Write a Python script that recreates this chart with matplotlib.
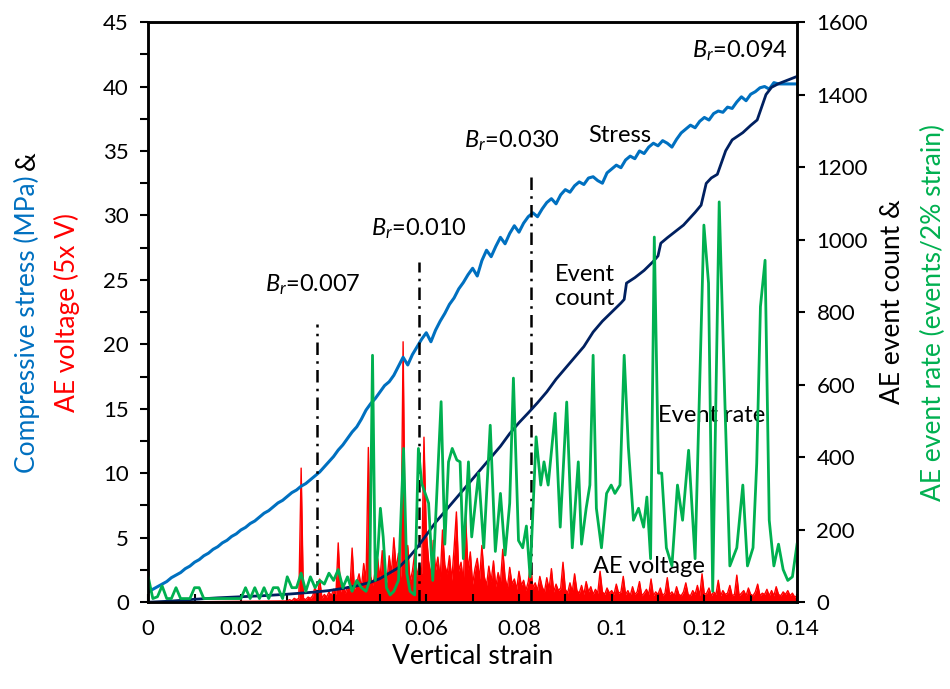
import matplotlib
matplotlib.use("Agg")
import matplotlib.pyplot as plt
from matplotlib.ticker import MultipleLocator

plt.rcParams["font.family"] = ["Lato", "DejaVu Sans"]
plt.rcParams["mathtext.fontset"] = "custom"
plt.rcParams["mathtext.rm"] = "Lato"
plt.rcParams["mathtext.it"] = "Lato:italic"

# ---- data ----
stress_strain = [i / 1000 for i in range(141)]
stress_mpa = [
    0.8, 1.0, 1.2, 1.4, 1.6, 1.9, 2.1, 2.3, 2.6, 2.8,
    3.1, 3.3, 3.6, 3.8, 4.1, 4.3, 4.6, 4.8, 5.1, 5.3,
    5.6, 5.8, 6.1, 6.3, 6.6, 6.9, 7.1, 7.4, 7.7, 7.9,
    8.2, 8.5, 8.7, 9.0, 9.2, 9.5, 9.8, 10.1, 10.5, 10.9,
    11.3, 11.8, 12.2, 12.7, 13.2, 13.6, 14.2, 14.9, 15.4, 15.8,
    16.3, 16.8, 17.1, 17.6, 18.3, 19.0, 18.4, 19.2, 19.8, 20.4,
    20.9, 20.2, 21.1, 21.8, 22.4, 23.1, 23.6, 24.3, 24.8, 25.4,
    25.9, 25.3, 26.5, 27.3, 26.8, 27.6, 28.3, 27.8, 28.6, 29.2,
    28.7, 29.4, 29.9, 30.2, 29.9, 30.5, 31.0, 31.3, 30.9, 31.6,
    32.0, 31.8, 32.3, 32.6, 32.4, 32.9, 33.0, 32.7, 32.5, 33.3,
    33.6, 33.9, 33.7, 34.3, 34.6, 34.4, 35.0, 34.8, 35.3, 35.6,
    35.4, 35.8, 35.6, 35.3, 35.9, 36.4, 36.7, 37.0, 36.8, 37.3,
    37.6, 37.4, 37.9, 38.1, 38.0, 38.4, 38.3, 38.8, 39.2, 38.9,
    39.4, 39.6, 39.9, 40.0, 39.8, 40.3, 40.2, 40.2, 40.2, 40.2,
    40.2,
]

count_strain = [
    0.000, 0.005, 0.010, 0.015, 0.020, 0.025, 0.030, 0.033, 0.036, 0.039,
    0.042, 0.045, 0.048, 0.050, 0.052, 0.054, 0.056, 0.058, 0.060, 0.062,
    0.064, 0.066, 0.068, 0.070, 0.072, 0.074, 0.076, 0.078, 0.080, 0.082,
    0.084, 0.086, 0.088, 0.090, 0.092, 0.094, 0.096, 0.098, 0.100, 0.102,
    0.1027, 0.1032, 0.105, 0.107, 0.109, 0.110, 0.1106, 0.112, 0.114, 0.1155,
    0.118, 0.1193, 0.1204, 0.1215, 0.1228, 0.1246, 0.126, 0.1283, 0.130, 0.1314,
    0.1333, 0.1345, 0.136, 0.138, 0.140,
]
event_count = [
    0, 3, 8, 12, 15, 18, 22, 25, 28, 32,
    38, 45, 55, 65, 80, 95, 120, 150, 185, 220,
    250, 280, 310, 340, 370, 400, 430, 465, 495, 522,
    550, 580, 615, 645, 675, 705, 745, 775, 800, 825,
    835, 880, 895, 915, 940, 955, 990, 1005, 1025, 1040,
    1075, 1095, 1155, 1170, 1180, 1245, 1275, 1295, 1315, 1330,
    1400, 1420, 1430, 1440, 1450,
]

rate_strain = [
    0.0000, 0.0010, 0.0020, 0.0030, 0.0040, 0.0050, 0.0060, 0.0070, 0.0090, 0.0100,
    0.0110, 0.0120, 0.0200, 0.0210, 0.0220, 0.0230, 0.0240, 0.0250, 0.0260, 0.0270,
    0.0280, 0.0290, 0.0300, 0.0310, 0.0320, 0.0330, 0.0340, 0.0350, 0.0360, 0.0370,
    0.0380, 0.0390, 0.0400, 0.0410, 0.0420, 0.0430, 0.0440, 0.0450, 0.0460, 0.0470,
    0.0478, 0.0484, 0.0490, 0.0496, 0.0501, 0.0507, 0.0514, 0.0522, 0.0530, 0.0540,
    0.0551, 0.0558, 0.0565, 0.0575, 0.0583, 0.0590, 0.0605, 0.0614, 0.0632, 0.0640,
    0.0648, 0.0656, 0.0666, 0.0673, 0.0680, 0.0691, 0.0698, 0.0713, 0.0724, 0.0738,
    0.0749, 0.0760, 0.0770, 0.0780, 0.0788, 0.0799, 0.0808, 0.0816, 0.0824, 0.0837,
    0.0847, 0.0854, 0.0863, 0.0878, 0.0889, 0.0903, 0.0915, 0.0928, 0.0935, 0.0945,
    0.0953, 0.0960, 0.0967, 0.0978, 0.0989, 0.0999, 0.1007, 0.1018, 0.1027, 0.1036,
    0.1047, 0.1058, 0.1069, 0.1076, 0.1084, 0.1092, 0.1101, 0.1108, 0.1118, 0.1130,
    0.1142, 0.1153, 0.1166, 0.1180, 0.1199, 0.1209, 0.1218, 0.1232, 0.1245, 0.1255,
    0.1270, 0.1283, 0.1293, 0.1305, 0.1313, 0.1321, 0.1331, 0.1340, 0.1350, 0.1360,
    0.1370, 0.1380, 0.1390, 0.1400,
]
event_rate = [
    70, 10, 15, 45, 10, 10, 40, 10, 10, 40,
    40, 10, 10, 40, 10, 40, 10, 40, 10, 40,
    40, 10, 70, 40, 40, 80, 30, 70, 40, 60,
    50, 80, 60, 90, 40, 70, 30, 60, 40, 30,
    60, 681, 60, 150, 259, 180, 40, 20, 30, 60,
    424, 80, 30, 20, 424, 328, 273, 60, 553, 160,
    387, 424, 392, 387, 120, 387, 180, 356, 150, 488,
    140, 300, 130, 273, 618, 170, 150, 210, 70, 456,
    323, 387, 323, 521, 207, 552, 150, 387, 160, 259,
    323, 681, 259, 150, 300, 323, 300, 323, 681, 428,
    226, 259, 207, 290, 120, 1007, 356, 356, 150, 100,
    323, 226, 419, 120, 1040, 880, 30, 1104, 521, 100,
    150, 323, 100, 150, 383, 815, 943, 226, 100, 160,
    90, 60, 70, 160,
]

# AE voltage (x5 V), sampled every 0.0005 strain from 0.030
volt_start = 0.030
ae_voltage = [
    0.1, 0.2, 0.1, 0.3, 0.2, 0.3, 10.4, 0.3, 0.2, 0.4,
    0.3, 0.5, 1.2, 0.4, 1.8, 0.3, 0.6, 0.4, 0.8, 0.5,
    1.0, 0.6, 4.6, 0.8, 1.4, 0.7, 1.2, 0.9, 4.2, 1.0,
    1.5, 2.2, 1.1, 3.0, 1.6, 12.0, 2.0, 1.3, 2.5, 3.4,
    1.8, 4.0, 2.4, 1.5, 3.6, 2.2, 5.0, 2.6, 3.8, 1.9,
    20.2, 2.8, 4.4, 1.6, 2.4, 3.8, 2.0, 3.0, 2.2, 12.8,
    5.5, 3.2, 2.0, 4.8, 2.5, 3.5, 1.8, 5.6, 2.9, 2.2,
    3.6, 1.7, 4.2, 7.0, 2.4, 3.1, 1.6, 6.6, 2.5, 3.9,
    1.4, 2.6, 3.4, 1.8, 4.4, 2.0, 1.3, 2.8, 1.6, 3.2,
    1.2, 2.3, 1.5, 4.1, 1.9, 1.1, 2.7, 1.4, 1.8, 1.0,
    2.4, 1.3, 1.7, 0.9, 1.6, 3.0, 1.1, 1.5, 0.9, 2.0,
    1.2, 0.8, 1.9, 1.0, 2.6, 0.8, 1.4, 0.9, 1.1, 3.1,
    1.0, 0.7, 1.5, 0.8, 2.2, 0.9, 0.7, 1.3, 0.6, 1.6,
    0.8, 1.2, 0.6, 1.0, 0.7, 2.4, 0.8, 0.6, 1.1, 0.7,
    0.9, 0.6, 1.4, 0.7, 0.8, 2.0, 0.6, 0.9, 0.5, 1.2,
    0.6, 0.8, 1.6, 0.5, 0.7, 1.0, 0.6, 1.8, 0.5, 0.8,
    0.6, 1.1, 0.5, 0.7, 1.9, 0.6, 0.8, 0.5, 1.2, 0.6,
    0.5, 0.8, 1.5, 0.6, 0.5, 0.9, 0.6, 1.3, 0.5, 2.2,
    0.6, 0.7, 1.1, 0.5, 0.8, 0.6, 1.7, 0.5, 0.9, 0.6,
    0.7, 1.3, 0.5, 0.6, 2.1, 0.5, 0.7, 0.9, 0.5, 1.1,
    0.6, 0.5, 0.8, 1.4, 0.5, 0.7, 0.6, 1.0, 0.5, 0.9,
    0.5, 1.2, 0.6, 0.5, 0.8, 0.6, 0.9, 0.5, 0.7, 0.4,
    0.5,
]
volt_strain = [0.0] + [volt_start + 0.0005 * i for i in range(len(ae_voltage))]
ae_voltage = [0.0] + ae_voltage

# B_r markers: strain, top of dash-dot line (MPa), label
br_strain = [0.0365, 0.0585, 0.0826]
br_top = [21.6, 26.4, 33.4]

BLUE = "#0070C0"
NAVY = "#002060"
GREEN = "#00B050"
RED = "#FF0000"

fig = plt.figure(figsize=(9.5, 6.89), dpi=100)
ax = fig.add_axes([0.156, 0.126, 0.683, 0.842])
ax2 = ax.twinx()

ax.fill_between(volt_strain, 0, ae_voltage, color=RED, lw=0)
ax.plot(volt_strain, ae_voltage, color=RED, lw=1.0)
ax.plot(stress_strain, stress_mpa, color=BLUE, lw=2.2)
for s, top in zip(br_strain, br_top):
    ax.plot([s, s], [0, top], color="black", lw=1.8,
            linestyle=(0, (5, 2.5, 1, 2.5)))

ax2.plot(count_strain, event_count, color=NAVY, lw=2.0)
ax2.plot(rate_strain, event_rate, color=GREEN, lw=2.0)

ax.set_xlim(0, 0.14)
ax.set_ylim(0, 45)
ax2.set_ylim(0, 1600)
ax.xaxis.set_major_locator(MultipleLocator(0.02))
ax.xaxis.set_minor_locator(MultipleLocator(0.01))
ax.yaxis.set_major_locator(MultipleLocator(5))
ax.yaxis.set_minor_locator(MultipleLocator(2.5))
ax2.yaxis.set_major_locator(MultipleLocator(200))
ax.set_xticklabels([])
xt = [0, 0.02, 0.04, 0.06, 0.08, 0.1, 0.12, 0.14]
ax.set_xticks(xt)
ax.set_xticklabels(["0", "0.02", "0.04", "0.06", "0.08", "0.1", "0.12", "0.14"])

for a in (ax, ax2):
    for sp in a.spines.values():
        sp.set_linewidth(1.8)
ax.tick_params(axis="x", which="both", direction="in", length=6, width=1.5,
               labelsize=16, pad=12)
ax.tick_params(axis="y", which="both", direction="out", length=6, width=1.5,
               labelsize=16, pad=8)
ax2.tick_params(axis="y", direction="out", length=6, width=1.5, labelsize=16,
                pad=8)
ax.set_xlabel("Vertical strain", fontsize=19, labelpad=4)

# annotations
fs = 17
ax.text(0.0355, 24.6, r"$B_r$=0.007", fontsize=fs, ha="center", va="center")
ax.text(0.0585, 29.0, r"$B_r$=0.010", fontsize=fs, ha="center", va="center")
ax.text(0.0785, 35.8, r"$B_r$=0.030", fontsize=fs, ha="center", va="center")
ax.text(0.1277, 42.8, r"$B_r$=0.094", fontsize=fs, ha="center", va="center")
ax.text(0.1017, 36.2, "Stress", fontsize=fs, ha="center", va="center")
ax.text(0.0878, 24.5, "Event\ncount", fontsize=fs, ha="left", va="center",
        linespacing=1.2)
ax.text(0.1216, 14.5, "Event rate", fontsize=fs, ha="center", va="center")
ax.text(0.108, 2.8, "AE voltage", fontsize=fs, ha="center", va="center")

# multi-coloured axis titles
fig.canvas.draw()
rend = fig.canvas.get_renderer()
H = fig.bbox.height


def stacked(x, yc, parts, gap=6):
    texts = [fig.text(x, 0, t, color=c, fontsize=19, rotation=90,
                      ha="center", va="bottom") for t, c in parts]
    hs = [t.get_window_extent(rend).height for t in texts]
    total = sum(hs) + gap * (len(hs) - 1)
    y = yc * H - total / 2
    for t, h in zip(texts, hs):
        t.set_y(y / H)
        y += h + gap


ymid = 0.126 + 0.842 / 2
stacked(27 / 950, ymid, [("Compressive stress (MPa)", BLUE), ("&", "black")])
stacked(67 / 950, ymid, [("AE voltage (5x V)", RED)])
stacked(892 / 950, ymid + 0.015, [("AE event count &", "black")])
stacked(933 / 950, ymid, [("AE event rate (events/2% strain)", GREEN)])

fig.savefig("out.png", dpi=100)
